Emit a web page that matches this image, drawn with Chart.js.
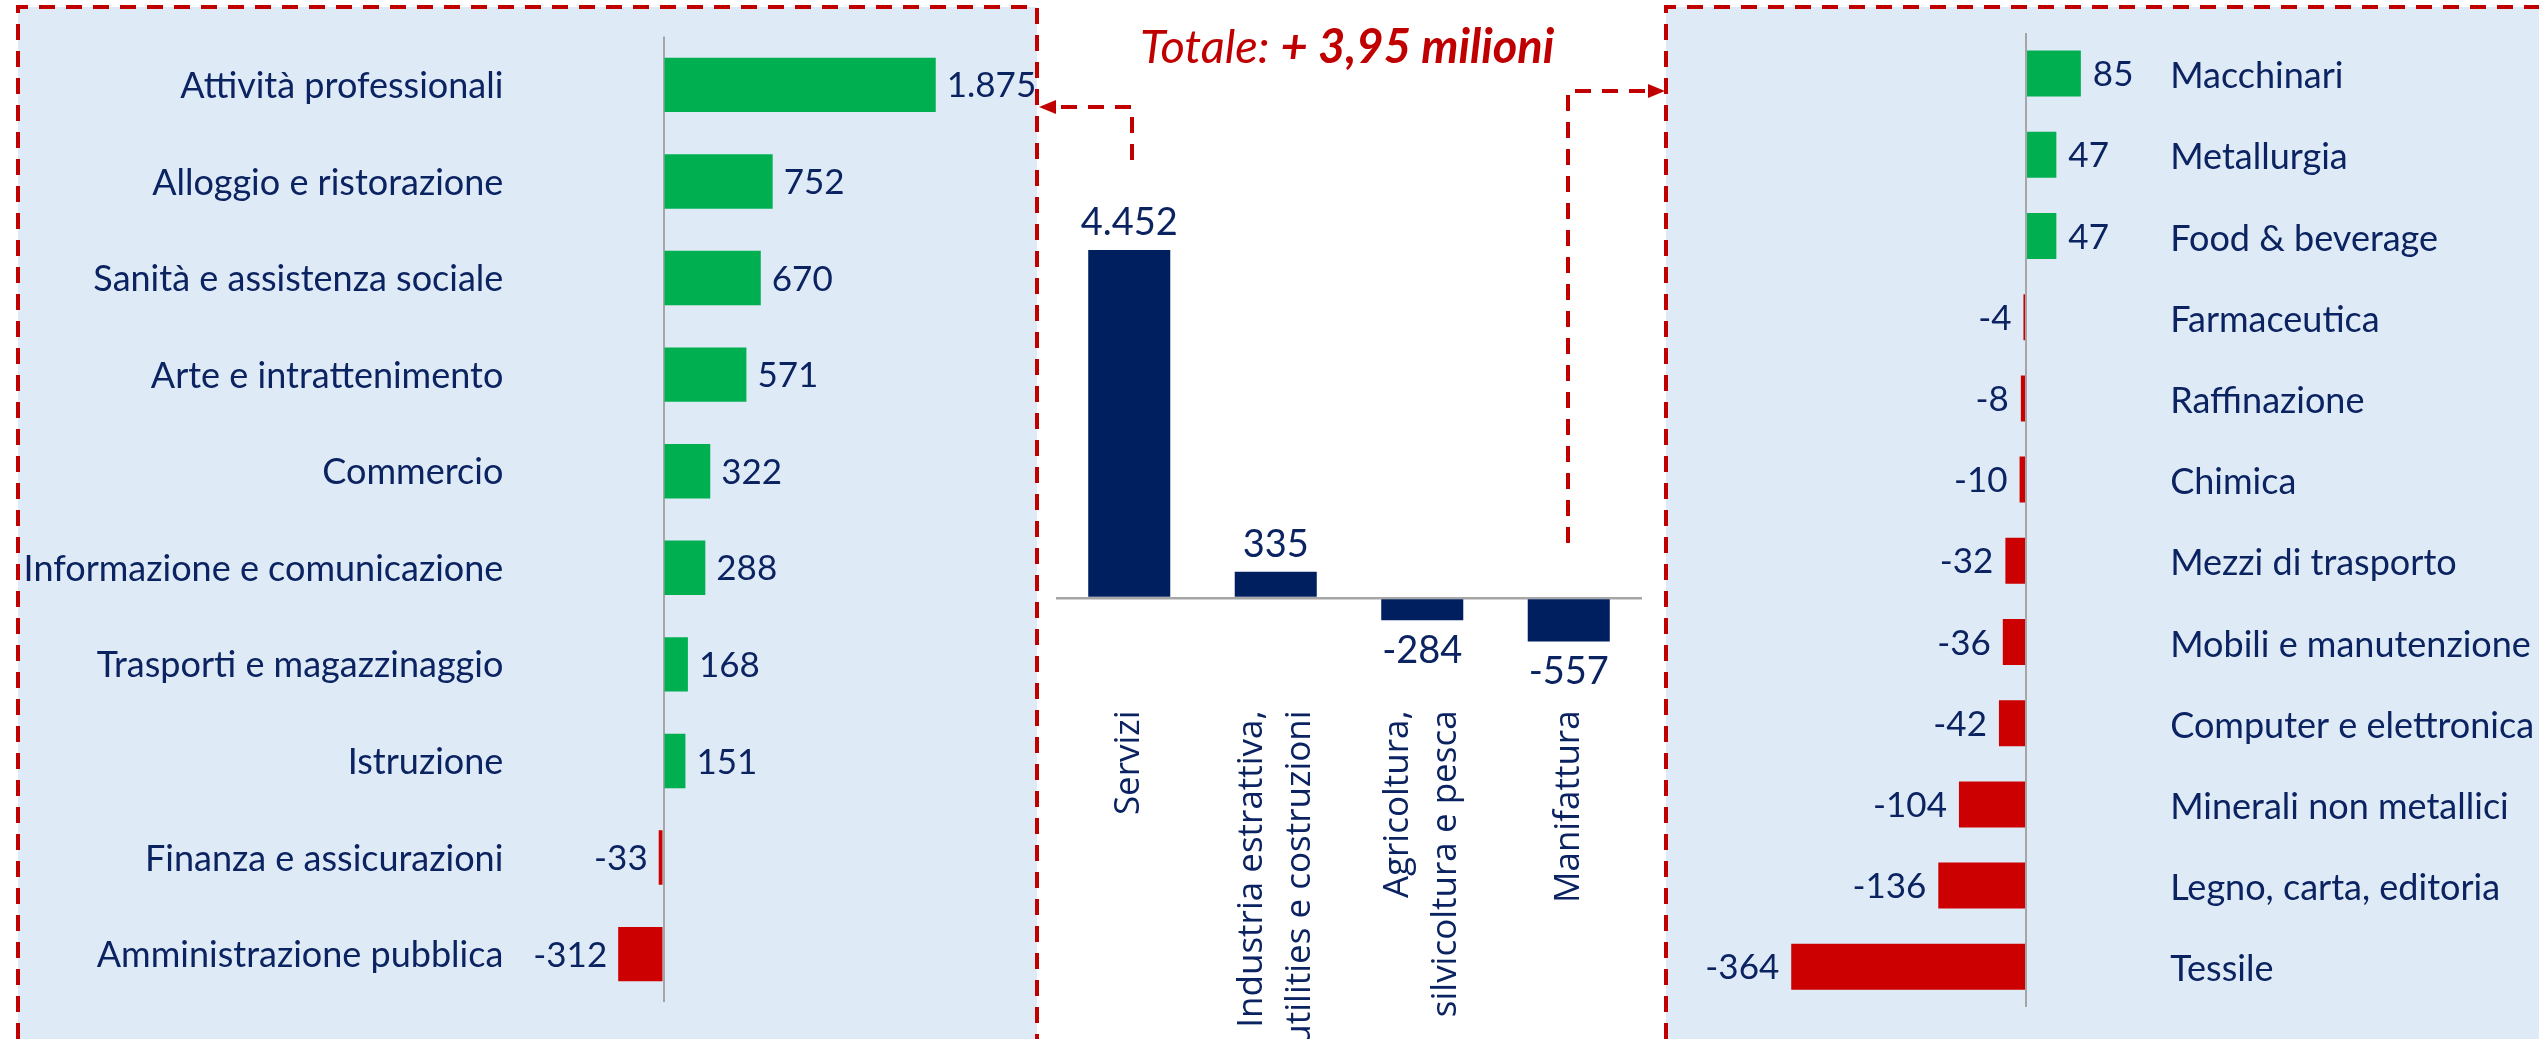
<!DOCTYPE html>
<html><head><meta charset="utf-8">
<script src="https://cdn.jsdelivr.net/npm/chart.js@4/dist/chart.umd.min.js"></script>
<style>
html,body{margin:0;padding:0;background:#fff;width:2539px;height:1039px;overflow:hidden;position:relative}
.panel{position:absolute;background:#DEEAF6}
canvas{position:absolute;top:0}
svg{position:absolute;left:0;top:0}
</style></head><body>
<div class="panel" style="left:18px;top:7px;width:1019px;height:1032px"></div>
<div class="panel" style="left:1666px;top:7px;width:873px;height:1032px"></div>
<canvas id="cL" width="1040" height="1039" style="left:0"></canvas>
<canvas id="cM" width="626" height="1039" style="left:1040px"></canvas>
<canvas id="cR" width="873" height="1039" style="left:1666px"></canvas>
<svg width="2539" height="1039">
 <g fill="none" stroke="#C00000" stroke-width="4" stroke-dasharray="16 11">
  <path d="M18 1039 V7 H1037 V1039"/>
  <path d="M1666 1039 V7 H2539"/>
  <path d="M1132 160 V107 H1054"/>
  <path d="M1568 543 V91 H1651"/>
 </g>
 <polygon points="1039,107 1056,100 1056,114" fill="#C00000"/>
 <polygon points="1665,91 1648,84 1648,98" fill="#C00000"/>
 <text x="1140" y="63" font-family="Lato" font-size="47" font-style="italic" fill="#C00000">Totale: <tspan font-weight="bold">+ 3,95 milioni</tspan></text>
</svg>
<script>
// ---- data ----
const leftCategories = ['Attività professionali','Alloggio e ristorazione','Sanità e assistenza sociale','Arte e intrattenimento','Commercio','Informazione e comunicazione','Trasporti e magazzinaggio','Istruzione','Finanza e assicurazioni','Amministrazione pubblica'];
const leftValues = [1875, 752, 670, 571, 322, 288, 168, 151, -33, -312];

const midCategories = [['Servizi'], ['Industria estrattiva,','utilities e costruzioni'], ['Agricoltura,','silvicoltura e pesca'], ['Manifattura']];
const midValues = [4452, 335, -284, -557];

const rightCategories = ['Macchinari','Metallurgia','Food & beverage','Farmaceutica','Raffinazione','Chimica','Mezzi di trasporto','Mobili e manutenzione','Computer e elettronica','Minerali non metallici','Legno, carta, editoria','Tessile'];
const rightValues = [85, 47, 47, -4, -8, -10, -32, -36, -42, -104, -136, -364];

// ---- styles ----
const GREEN = '#00B050', RED = '#CC0000', NAVY_BAR = '#001F5F', NAVY = '#0B2361', AXIS = '#A6A6A6';

function fmt(v){
  const s = Math.abs(v).toString().replace(/\B(?=(\d{3})+(?!\d))/g, '.');
  return (v < 0 ? '-' : '') + s;
}

const valueLabels = {
  id: 'valueLabels',
  afterDatasetsDraw(chart, args, opts) {
    const ctx = chart.ctx;
    const meta = chart.getDatasetMeta(0);
    const data = chart.data.datasets[0].data;
    ctx.save();
    ctx.font = opts.size + 'px ' + opts.family;
    ctx.fillStyle = opts.color;
    ctx.textBaseline = 'alphabetic';
    const dh = opts.size * 0.72;
    meta.data.forEach((bar, i) => {
      const v = data[i]; const t = fmt(v);
      if (chart.options.indexAxis === 'y') {
        ctx.textAlign = v >= 0 ? 'left' : 'right';
        ctx.fillText(t, bar.x + (v >= 0 ? opts.gap : -opts.gap), bar.y + dh / 2);
      } else {
        ctx.textAlign = 'center';
        if (v >= 0) ctx.fillText(t, bar.x, bar.y - opts.gap);
        else ctx.fillText(t, bar.x, bar.y + opts.gap + dh);
      }
    });
    ctx.restore();
  }
};

class CenteredCategory extends Chart.CategoryScale {
  static id = 'centeredCategory';
  static defaults = Chart.CategoryScale.defaults;
  _computeLabelItems(chartArea) {
    const items = super._computeLabelItems(chartArea);
    items.forEach(it => {
      const n = Array.isArray(it.label) ? it.label.length : 1;
      if (n > 1) it.options.translation[0] -= (n - 1) * it.font.lineHeight / 2;
    });
    return items;
  }
}
Chart.register(CenteredCategory);

const zeroGrid = c => (c.tick && c.tick.value === 0) ? AXIS : 'rgba(0,0,0,0)';

// ---- left chart ----
new Chart(document.getElementById('cL'), {
  type: 'bar',
  data: { labels: leftCategories, datasets: [{ data: leftValues, backgroundColor: leftValues.map(v => v >= 0 ? GREEN : RED), barPercentage: 0.563, categoryPercentage: 1 }] },
  options: {
    indexAxis: 'y', responsive: false, animation: false,
    layout: { padding: { top: 33, bottom: 30, left: 0, right: 13.5 } },
    plugins: { legend: { display: false }, tooltip: { enabled: false },
      valueLabels: { family: 'Lato', size: 35, color: NAVY, gap: 11 } },
    scales: {
      x: { min: -1000, max: 2500, ticks: { display: false, stepSize: 500 }, border: { display: false },
           grid: { drawTicks: false, color: zeroGrid, lineWidth: 2 }, afterFit: s => { s.height = 0; } },
      y: { ticks: { font: { family: 'Lato', size: 36 }, color: NAVY, padding: 15, labelOffset: 1.5 }, grid: { display: false, drawTicks: false },
           border: { display: false }, afterFit: s => { s.width = 518.3; } }
    }
  },
  plugins: [valueLabels]
});

// ---- middle chart ----
new Chart(document.getElementById('cM'), {
  type: 'bar',
  data: { labels: midCategories, datasets: [{ data: midValues, backgroundColor: NAVY_BAR, barPercentage: 0.56, categoryPercentage: 1 }] },
  options: {
    responsive: false, animation: false,
    layout: { padding: { top: 222.8, bottom: 0, left: 16, right: 24 } },
    plugins: { legend: { display: false }, tooltip: { enabled: false },
      valueLabels: { family: 'Lato', size: 38, color: NAVY, gap: 15 } },
    scales: {
      x: { type: 'centeredCategory', ticks: { minRotation: 90, maxRotation: 90, autoSkip: false, padding: 3,
             font: { family: 'Open Sans', size: 35, lineHeight: 1.37 }, color: NAVY },
           grid: { display: false, drawTicks: false }, border: { display: false }, afterFit: s => { s.height = 331.6; } },
      y: { min: -1400, max: 4800, ticks: { display: false, stepSize: 200 }, border: { display: false },
           grid: { drawTicks: false, color: zeroGrid, lineWidth: 2.5 }, afterFit: s => { s.width = 0; } }
    }
  },
  plugins: [valueLabels]
});

// ---- right chart ----
new Chart(document.getElementById('cR'), {
  type: 'bar',
  data: { labels: rightCategories, datasets: [{ data: rightValues, backgroundColor: rightValues.map(v => v >= 0 ? GREEN : RED), barPercentage: 0.566, categoryPercentage: 1 }] },
  options: {
    indexAxis: 'y', responsive: false, animation: false,
    layout: { padding: { top: 33, bottom: 30, left: 11.7, right: 0 } },
    plugins: { legend: { display: false }, tooltip: { enabled: false },
      valueLabels: { family: 'Lato', size: 35, color: NAVY, gap: 12 } },
    scales: {
      x: { min: -540, max: 208, ticks: { display: false, stepSize: 100 }, border: { display: false },
           grid: { drawTicks: false, color: zeroGrid, lineWidth: 2 }, afterFit: s => { s.height = 0; } },
      y: { position: 'right', ticks: { font: { family: 'Lato', size: 36 }, color: NAVY, padding: 10, labelOffset: 3 },
           grid: { display: false, drawTicks: false }, border: { display: false }, afterFit: s => { s.width = 378.8; } }
    }
  },
  plugins: [valueLabels]
});
</script>
</body></html>
